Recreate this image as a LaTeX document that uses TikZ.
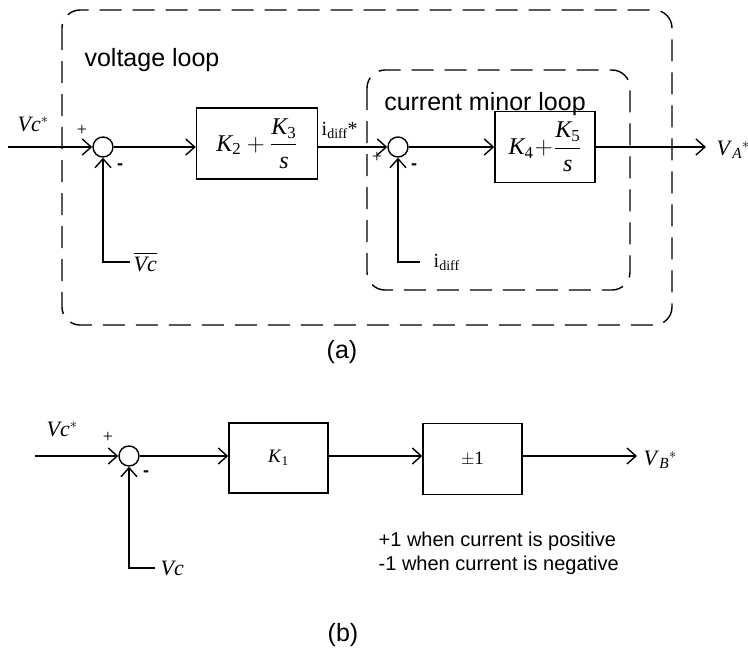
\documentclass[tikz,border=0pt]{standalone}
\usepackage{amsmath}
\usepackage{fontspec}
\setmainfont{Liberation Serif}
\newfontfamily\arialf{Liberation Sans}
\usetikzlibrary{arrows.meta}
\tikzset{
  sumnode/.style={circle, draw, minimum size=20pt, inner sep=0pt},
  blockbox/.style={draw, rectangle, inner sep=0pt},
  loopbox/.style={dash pattern=on 22pt off 11pt, rounded corners=18pt, line width=1.4pt},
  lbl/.style={inner sep=0pt, font=\fontsize{22}{26}\selectfont},
  idlbl/.style={inner sep=0pt, font=\fontsize{20}{24}\selectfont},
  boxtext/.style={font=\fontsize{19}{22}\selectfont},
  fractext/.style={font=\fontsize{24}{28}\selectfont},
  sanslbl/.style={inner sep=0pt, font=\arialf\fontsize{25}{30}\selectfont},
  notetext/.style={inner sep=0pt, anchor=west, font=\arialf\fontsize{20}{24}\selectfont},
  signs/.style={inner sep=0pt, font=\fontsize{18}{20}\selectfont},
  minus/.style={inner sep=0pt, font=\arialf\bfseries\fontsize{18}{20}\selectfont},
}
\begin{document}
\begin{tikzpicture}[x=1pt, y=-1pt, line width=1.4pt, >={Straight Barb[length=9pt,width=16pt]}]
\useasboundingbox (0,0) rectangle (748,657);
% ---------- (a) ----------
\draw[loopbox] (62,10) rectangle (672,325);
\draw[loopbox] (367,70) rectangle (630,290);
\node[sanslbl] (vl) at (152,60) {voltage loop};
\node[sanslbl] (cml) at (485,104) {current minor loop};

\coordinate (inA) at (8,147);
\node[sumnode] (s1) at (103,147) {};
\node[blockbox, minimum width=121pt, minimum height=71pt, fractext] (b1) at (257,143.5) {$\textit{K}_{\text{2}}+\dfrac{\textit{K}_{\text{3}}}{\textit{s}}$};
\node[sumnode] (s2) at (398,147) {};
\node[blockbox, minimum width=100pt, minimum height=71pt, fractext] (b2) at (545,147) {$\textit{K}_{\text{4}}\!+\!\dfrac{\textit{K}_{\text{5}}}{\textit{s}}$};
\coordinate (outA) at (706,147);

\draw[->] (inA) -- (s1);
\draw[->] (s1) -- (s1 -| b1.west);
\draw[->] (s2 -| b1.east) -- (s2);
\draw[->] (s2) -- (b2);
\draw[->] (b2) -- (outA);

\coordinate (fb1) at (130,262);
\coordinate (fb2) at (420,262);
\draw[->] (fb1) -| (s1.south);
\draw[->] (fb2) -| (s2.south);

\node[lbl, anchor=west] (vcs1) at (17,124) {\textit{Vc}$^{*}$};
\node[signs] (p1) at (82,130) {+};
\node[minus] (m1) at (120,167) {-};
\node[lbl, anchor=west] (vcbar) at (133,262) {$\overline{\hbox{\itshape Vc}}$};
\node[idlbl, anchor=west] (idstar) at (321,130) {i\textsubscript{diff}*};
\node[signs] (p2) at (377,157) {+};
\node[minus] (m2) at (414,167) {-};
\node[idlbl, anchor=west] (idiff) at (433,262) {i\textsubscript{diff}};
\node[lbl, anchor=west] (va) at (716,150) {\textit{V}$_{\textit{A}}{}^{*}$};

\node[sanslbl] (capa) at (342,352) {(a)};

% ---------- (b) ----------
\coordinate (inB) at (35,456);
\node[sumnode] (s3) at (129,456) {};
\node[blockbox, minimum width=99pt, minimum height=70pt, boxtext] (k1) at (278.5,458) {\textit{K}\textsubscript{1}};
\node[blockbox, minimum width=99pt, minimum height=71pt, boxtext] (pm) at (472.5,459) {$\pm$1};
\coordinate (outB) at (637,456);

\draw[->] (inB) -- (s3);
\draw[->] (s3) -- (s3 -| k1.west);
\draw[->] (s3 -| k1.east) -- (s3 -| pm.west);
\draw[->] (s3 -| pm.east) -- (outB);

\coordinate (fb3) at (155,568);
\draw[->] (fb3) -| (s3.south);

\node[lbl, anchor=west] (vcs2) at (46,429) {\textit{Vc}$^{*}$};
\node[signs] (p3) at (108,437) {+};
\node[minus] (m3) at (146,474) {-};
\node[lbl, anchor=west] (vc) at (160,568) {\textit{Vc}};
\node[lbl, anchor=west] (vb) at (643,460) {\textit{V}$_{\textit{B}}{}^{*}$};

\node[notetext] (n1) at (378,541) {+1 when current is positive};
\node[notetext] (n2) at (378,565) {-1 when current is negative};

\node[sanslbl] (capb) at (343,635) {(b)};
\end{tikzpicture}
\end{document}
